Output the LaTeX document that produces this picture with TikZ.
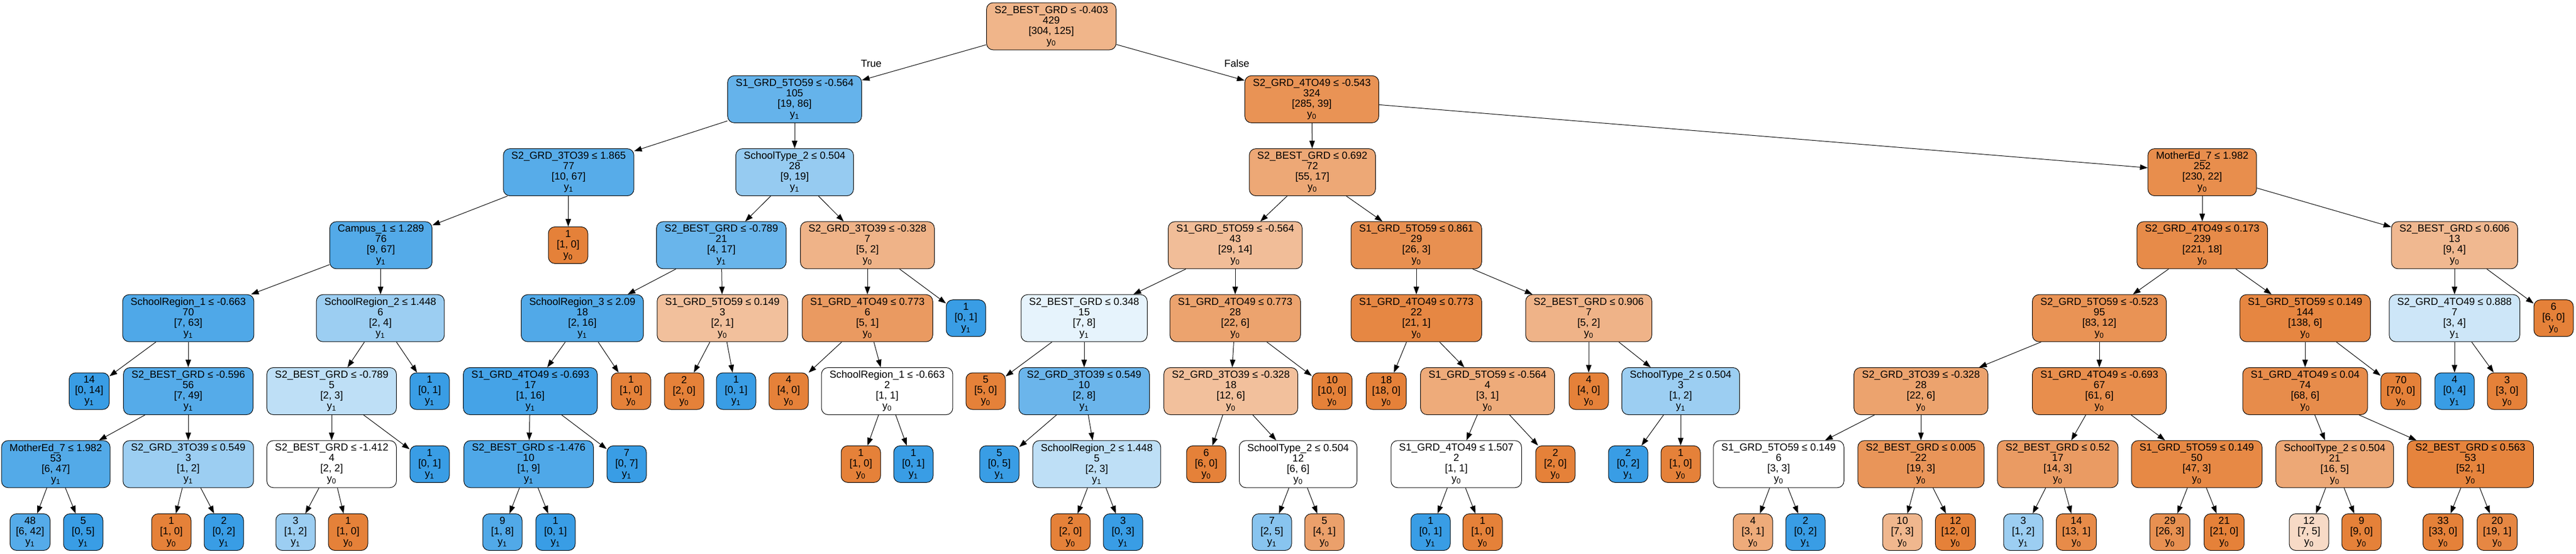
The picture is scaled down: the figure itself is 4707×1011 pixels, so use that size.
\documentclass[tikz,border=0pt]{standalone}
\usepackage{fontspec}
\setmainfont{Liberation Sans}
\usetikzlibrary{arrows.meta}
\definecolor{co}{RGB}{229,129,57}
\definecolor{cb}{RGB}{57,157,229}
\newcommand\fsz{\fontsize{14}{14.25}\selectfont}
\newcommand\dtin[4]{#1\\#2\\{}[#3]\\y\textsubscript{#4}}
\newcommand\dtlf[3]{#1\\{}[#2]\\y\textsubscript{#3}}
\tikzset{
  tn/.style={draw=black, line width=0.75pt, rounded corners=9pt, align=center, font=\fsz, inner xsep=11pt, inner ysep=1pt, minimum height=64.5pt, minimum width=54pt},
  tl/.style={tn, minimum height=50.25pt, inner xsep=8pt},
  oc/.style={fill=co!#1!white},
  bc/.style={fill=cb!#1!white},
  wc/.style={fill=white},
  ed/.style={draw=black, line width=0.75pt, -{Triangle[length=10.5pt,width=7.5pt]}},
  el/.style={font=\fsz, inner sep=0pt}
}
\begin{document}
\begin{tikzpicture}[x=0.75pt, y=-0.75pt]
\fill[white] (0,0) rectangle (4707,1011);
\useasboundingbox (0,0) rectangle (4707,1011);
% rank 0
\node[tn,oc=59] (n0) at (1921,48) {\dtin{S2\_BEST\_GRD ≤ -0.403}{429}{304, 125}{0}};
% rank 1
\node[tn,bc=78] (n1) at (1452,181.3) {\dtin{S1\_GRD\_5TO59 ≤ -0.564}{105}{19, 86}{1}};
\node[tn,oc=86] (n2) at (2397,181.3) {\dtin{S2\_GRD\_4TO49 ≤ -0.543}{324}{285, 39}{0}};
% rank 2
\node[tn,bc=85] (n3) at (1039,314.6) {\dtin{S2\_GRD\_3TO39 ≤ 1.865}{77}{10, 67}{1}};
\node[tn,bc=53] (n4) at (1452,314.6) {\dtin{SchoolType\_2 ≤ 0.504}{28}{9, 19}{1}};
\node[tn,oc=69] (n5) at (2398,314.6) {\dtin{S2\_BEST\_GRD ≤ 0.692}{72}{55, 17}{0}};
\node[tn,oc=90] (n6) at (4024,314.6) {\dtin{MotherEd\_7 ≤ 1.982}{252}{230, 22}{0}};
% rank 3
\node[tn,bc=87] (n7) at (696,447.9) {\dtin{Campus\_1 ≤ 1.289}{76}{9, 67}{1}};
\node[tl,oc=100] (n8) at (1038,447.9) {\dtlf{1}{1, 0}{0}};
\node[tn,bc=76] (n9) at (1318,447.9) {\dtin{S2\_BEST\_GRD ≤ -0.789}{21}{4, 17}{1}};
\node[tn,oc=60] (n10) at (1585,447.9) {\dtin{S2\_GRD\_3TO39 ≤ -0.328}{7}{5, 2}{0}};
\node[tn,oc=52] (n11) at (2257,447.9) {\dtin{S1\_GRD\_5TO59 ≤ -0.564}{43}{29, 14}{0}};
\node[tn,oc=88] (n12) at (2588,447.9) {\dtin{S1\_GRD\_5TO59 ≤ 0.861}{29}{26, 3}{0}};
\node[tn,oc=92] (n13) at (4024,447.9) {\dtin{S2\_GRD\_4TO49 ≤ 0.173}{239}{221, 18}{0}};
\node[tn,oc=56] (n14) at (4485,447.9) {\dtin{S2\_BEST\_GRD ≤ 0.606}{13}{9, 4}{0}};
% rank 4
\node[tn,bc=89] (n15) at (344,581.2) {\dtin{SchoolRegion\_1 ≤ -0.663}{70}{7, 63}{1}};
\node[tn,bc=50] (n16) at (695,581.2) {\dtin{SchoolRegion\_2 ≤ 1.448}{6}{2, 4}{1}};
\node[tn,bc=88] (n17) at (1064,581.2) {\dtin{SchoolRegion\_3 ≤ 2.09}{18}{2, 16}{1}};
\node[tn,oc=50] (n18) at (1320,581.2) {\dtin{S1\_GRD\_5TO59 ≤ 0.149}{3}{2, 1}{0}};
\node[tn,oc=80] (n19) at (1585,581.2) {\dtin{S1\_GRD\_4TO49 ≤ 0.773}{6}{5, 1}{0}};
\node[tl,bc=100] (n20) at (1765,581.2) {\dtlf{1}{0, 1}{1}};
\node[tn,bc=12.5] (n21) at (1981,581.2) {\dtin{S2\_BEST\_GRD ≤ 0.348}{15}{7, 8}{1}};
\node[tn,oc=73] (n22) at (2257,581.2) {\dtin{S1\_GRD\_4TO49 ≤ 0.773}{28}{22, 6}{0}};
\node[tn,oc=95] (n23) at (2588,581.2) {\dtin{S1\_GRD\_4TO49 ≤ 0.773}{22}{21, 1}{0}};
\node[tn,oc=60] (n24) at (2903,581.2) {\dtin{S2\_BEST\_GRD ≤ 0.906}{7}{5, 2}{0}};
\node[tn,oc=86] (n25) at (3836,581.2) {\dtin{S2\_GRD\_5TO59 ≤ -0.523}{95}{83, 12}{0}};
\node[tn,oc=96] (n26) at (4212,581.2) {\dtin{S1\_GRD\_5TO59 ≤ 0.149}{144}{138, 6}{0}};
\node[tn,bc=25] (n27) at (4485,581.2) {\dtin{S2\_GRD\_4TO49 ≤ 0.888}{7}{3, 4}{1}};
\node[tl,oc=100] (n28) at (4666,581.2) {\dtlf{6}{6, 0}{0}};
% rank 5
\node[tl,bc=100] (n29) at (163,714.5) {\dtlf{14}{0, 14}{1}};
\node[tn,bc=86] (n30) at (344,714.5) {\dtin{S2\_BEST\_GRD ≤ -0.596}{56}{7, 49}{1}};
\node[tn,bc=33] (n31) at (606,714.5) {\dtin{S2\_BEST\_GRD ≤ -0.789}{5}{2, 3}{1}};
\node[tl,bc=100] (n32) at (785,714.5) {\dtlf{1}{0, 1}{1}};
\node[tn,bc=94] (n33) at (969,714.5) {\dtin{S1\_GRD\_4TO49 ≤ -0.693}{17}{1, 16}{1}};
\node[tl,oc=100] (n34) at (1153,714.5) {\dtlf{1}{1, 0}{0}};
\node[tl,oc=100] (n35) at (1250,714.5) {\dtlf{2}{2, 0}{0}};
\node[tl,bc=100] (n36) at (1345,714.5) {\dtlf{1}{0, 1}{1}};
\node[tl,oc=100] (n37) at (1441,714.5) {\dtlf{4}{4, 0}{0}};
\node[tn,wc] (n38) at (1621,714.5) {\dtin{SchoolRegion\_1 ≤ -0.663}{2}{1, 1}{0}};
\node[tl,oc=100] (n39) at (1801,714.5) {\dtlf{5}{5, 0}{0}};
\node[tn,bc=75] (n40) at (1981,714.5) {\dtin{S2\_GRD\_3TO39 ≤ 0.549}{10}{2, 8}{1}};
\node[tn,oc=50] (n41) at (2249,714.5) {\dtin{S2\_GRD\_3TO39 ≤ -0.328}{18}{12, 6}{0}};
\node[tl,oc=100] (n42) at (2434,714.5) {\dtlf{10}{10, 0}{0}};
\node[tl,oc=100] (n43) at (2533,714.5) {\dtlf{18}{18, 0}{0}};
\node[tn,oc=67] (n44) at (2718,714.5) {\dtin{S1\_GRD\_5TO59 ≤ -0.564}{4}{3, 1}{0}};
\node[tl,oc=100] (n45) at (2903,714.5) {\dtlf{4}{4, 0}{0}};
\node[tn,bc=50] (n46) at (3071,714.5) {\dtin{SchoolType\_2 ≤ 0.504}{3}{1, 2}{1}};
\node[tn,oc=73] (n47) at (3510,714.5) {\dtin{S2\_GRD\_3TO39 ≤ -0.328}{28}{22, 6}{0}};
\node[tn,oc=90] (n48) at (3836,714.5) {\dtin{S1\_GRD\_4TO49 ≤ -0.693}{67}{61, 6}{0}};
\node[tn,oc=91] (n49) at (4212,714.5) {\dtin{S1\_GRD\_4TO49 ≤ 0.04}{74}{68, 6}{0}};
\node[tl,oc=100] (n50) at (4387,714.5) {\dtlf{70}{70, 0}{0}};
\node[tl,bc=100] (n51) at (4485,714.5) {\dtlf{4}{0, 4}{1}};
\node[tl,oc=100] (n52) at (4581,714.5) {\dtlf{3}{3, 0}{0}};
% rank 6
\node[tn,bc=87] (n53) at (102,847.8) {\dtin{MotherEd\_7 ≤ 1.982}{53}{6, 47}{1}};
\node[tn,bc=50] (n54) at (344,847.8) {\dtin{S2\_GRD\_3TO39 ≤ 0.549}{3}{1, 2}{1}};
\node[tn,wc] (n55) at (606,847.8) {\dtin{S2\_BEST\_GRD ≤ -1.412}{4}{2, 2}{0}};
\node[tl,bc=100] (n56) at (785,847.8) {\dtlf{1}{0, 1}{1}};
\node[tn,bc=89] (n57) at (966,847.8) {\dtin{S2\_BEST\_GRD ≤ -1.476}{10}{1, 9}{1}};
\node[tl,bc=100] (n58) at (1145,847.8) {\dtlf{7}{0, 7}{1}};
\node[tl,oc=100] (n59) at (1573,847.8) {\dtlf{1}{1, 0}{0}};
\node[tl,bc=100] (n60) at (1669,847.8) {\dtlf{1}{0, 1}{1}};
\node[tl,bc=100] (n61) at (1826,847.8) {\dtlf{5}{0, 5}{1}};
\node[tn,bc=33] (n62) at (2004,847.8) {\dtin{SchoolRegion\_2 ≤ 1.448}{5}{2, 3}{1}};
\node[tl,oc=100] (n63) at (2204,847.8) {\dtlf{6}{6, 0}{0}};
\node[tn,wc] (n64) at (2372,847.8) {\dtin{SchoolType\_2 ≤ 0.504}{12}{6, 6}{0}};
\node[tn,wc] (n65) at (2661,847.8) {\dtin{S1\_GRD\_4TO49 ≤ 1.507}{2}{1, 1}{0}};
\node[tl,oc=100] (n66) at (2842,847.8) {\dtlf{2}{2, 0}{0}};
\node[tl,bc=100] (n67) at (2975,847.8) {\dtlf{2}{0, 2}{1}};
\node[tl,oc=100] (n68) at (3071,847.8) {\dtlf{1}{1, 0}{0}};
\node[tn,wc] (n69) at (3250,847.8) {\dtin{S1\_GRD\_5TO59 ≤ 0.149}{6}{3, 3}{0}};
\node[tn,oc=84] (n70) at (3510,847.8) {\dtin{S2\_BEST\_GRD ≤ 0.005}{22}{19, 3}{0}};
\node[tn,oc=79] (n71) at (3760,847.8) {\dtin{S2\_BEST\_GRD ≤ 0.52}{17}{14, 3}{0}};
\node[tn,oc=94] (n72) at (4014,847.8) {\dtin{S1\_GRD\_5TO59 ≤ 0.149}{50}{47, 3}{0}};
\node[tn,oc=69] (n73) at (4266,847.8) {\dtin{SchoolType\_2 ≤ 0.504}{21}{16, 5}{0}};
\node[tn,oc=98] (n74) at (4514,847.8) {\dtin{S2\_BEST\_GRD ≤ 0.563}{53}{52, 1}{0}};
% rank 7
\node[tl,bc=86] (n75) at (55,972) {\dtlf{48}{6, 42}{1}};
\node[tl,bc=100] (n76) at (152,972) {\dtlf{5}{0, 5}{1}};
\node[tl,oc=100] (n77) at (313,972) {\dtlf{1}{1, 0}{0}};
\node[tl,bc=100] (n78) at (409,972) {\dtlf{2}{0, 2}{1}};
\node[tl,bc=50] (n79) at (540,972) {\dtlf{3}{1, 2}{1}};
\node[tl,oc=100] (n80) at (636,972) {\dtlf{1}{1, 0}{0}};
\node[tl,bc=88] (n81) at (918,972) {\dtlf{9}{1, 8}{1}};
\node[tl,bc=100] (n82) at (1015,972) {\dtlf{1}{0, 1}{1}};
\node[tl,oc=100] (n83) at (1956,972) {\dtlf{2}{2, 0}{0}};
\node[tl,bc=100] (n84) at (2052,972) {\dtlf{3}{0, 3}{1}};
\node[tl,bc=60] (n85) at (2324,972) {\dtlf{7}{2, 5}{1}};
\node[tl,oc=75] (n86) at (2420,972) {\dtlf{5}{4, 1}{0}};
\node[tl,bc=100] (n87) at (2614,972) {\dtlf{1}{0, 1}{1}};
\node[tl,oc=100] (n88) at (2709,972) {\dtlf{1}{1, 0}{0}};
\node[tl,oc=67] (n89) at (3203,972) {\dtlf{4}{3, 1}{0}};
\node[tl,bc=100] (n90) at (3299,972) {\dtlf{2}{0, 2}{1}};
\node[tl,oc=57] (n91) at (3476,972) {\dtlf{10}{7, 3}{0}};
\node[tl,oc=100] (n92) at (3573,972) {\dtlf{12}{12, 0}{0}};
\node[tl,bc=50] (n93) at (3697,972) {\dtlf{3}{1, 2}{1}};
\node[tl,oc=92] (n94) at (3794,972) {\dtlf{14}{13, 1}{0}};
\node[tl,oc=88] (n95) at (3965,972) {\dtlf{29}{26, 3}{0}};
\node[tl,oc=100] (n96) at (4064,972) {\dtlf{21}{21, 0}{0}};
\node[tl,oc=29] (n97) at (4219,972) {\dtlf{12}{7, 5}{0}};
\node[tl,oc=100] (n98) at (4315,972) {\dtlf{9}{9, 0}{0}};
\node[tl,oc=100] (n99) at (4464,972) {\dtlf{33}{33, 0}{0}};
\node[tl,oc=95] (n100) at (4563,972) {\dtlf{20}{19, 1}{0}};
% edges
\foreach \a/\b in {0/1,0/2,1/3,1/4,2/5,2/6,3/7,3/8,4/9,4/10,5/11,5/12,6/13,6/14,
  7/15,7/16,9/17,9/18,10/19,10/20,11/21,11/22,12/23,12/24,13/25,13/26,14/27,14/28,
  15/29,15/30,16/31,16/32,17/33,17/34,18/35,18/36,19/37,19/38,21/39,21/40,22/41,22/42,
  23/43,23/44,24/45,24/46,25/47,25/48,26/49,26/50,27/51,27/52,
  30/53,30/54,31/55,31/56,33/57,33/58,38/59,38/60,40/61,40/62,41/63,41/64,44/65,44/66,
  46/67,46/68,47/69,47/70,48/71,48/72,49/73,49/74,
  53/75,53/76,54/77,54/78,55/79,55/80,57/81,57/82,62/83,62/84,64/85,64/86,65/87,65/88,
  69/89,69/90,70/91,70/92,71/93,71/94,72/95,72/96,73/97,73/98,74/99,74/100}
  \draw[ed] (n\a) -- (n\b);
\node[el] (lt) at (1592,116) {True};
\node[el] (lf) at (2260,116) {False};
\end{tikzpicture}
\end{document}
